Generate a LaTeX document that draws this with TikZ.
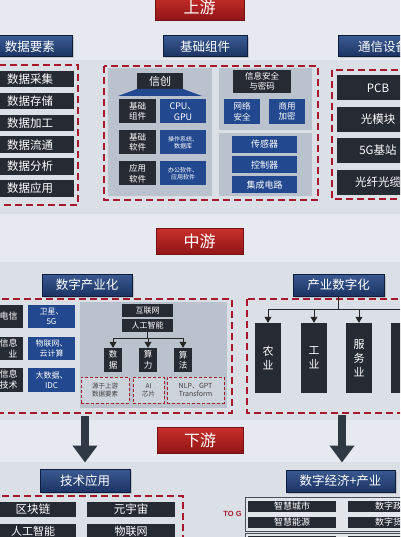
\documentclass[tikz,border=0pt]{standalone}
\usepackage{fontspec}
\setmainfont{Liberation Sans}
\newfontfamily\cjk{Noto Sans CJK SC}
\usetikzlibrary{arrows.meta,shadows}
\definecolor{bgc}{HTML}{E6EAF0}
\definecolor{bandc}{HTML}{DBE0E7}
\definecolor{dkc}{HTML}{262A33}
\definecolor{blc}{HTML}{22498F}
\definecolor{hdtop}{HTML}{3A5A92}
\definecolor{hdbot}{HTML}{1B3363}
\definecolor{hdbd}{HTML}{0E1D3D}
\definecolor{rdtop}{HTML}{C8302B}
\definecolor{rdbot}{HTML}{921517}
\definecolor{rdc}{HTML}{A8182B}
\definecolor{pnc}{HTML}{B9C2CD}
\definecolor{smf}{HTML}{CDD3DB}
\definecolor{arc}{HTML}{2F3944}
\definecolor{frc}{HTML}{4A4F57}
\definecolor{frf}{HTML}{E2E6EB}
\newcommand\myfs[2]{\fontsize{#1}{#2}\selectfont}
\tikzset{
  wh/.style 2 args={minimum width=#1pt, minimum height=#2pt},
  base/.style={inner sep=0pt, align=center, text=white, font=\cjk},
  darkbox/.style={base, fill=dkc},
  bluebox/.style={base, fill=blc},
  headbox/.style={base, top color=hdtop, bottom color=hdbot, draw=hdbd, line width=1pt,
     drop shadow={shadow xshift=1.5pt, shadow yshift=-1.5pt, opacity=.35}, font=\cjk\myfs{12.5}{14}},
  redtitle/.style={base, top color=rdtop, bottom color=rdbot, draw=rdbot!80!black, line width=.8pt, font=\cjk\myfs{16}{18}},
  reddash/.style={draw=rdc, line width=2pt, dash pattern=on 7pt off 4pt},
  smalldash/.style={base, draw=rdc, line width=1pt, dash pattern=on 3pt off 2pt, fill=smf, text=black!75},
  conn/.style={draw=black!85, line width=.8pt},
  tip/.style={-{Triangle[length=6pt,width=7pt]}},
  bigarr/.style={draw=arc, line width=8pt, -{Triangle[length=17pt,width=24pt]}},
  frame/.style={draw=frc, line width=1pt, fill=frf}
}
\begin{document}
\begin{tikzpicture}[x=1pt,y=-1pt]
\useasboundingbox (0,0) rectangle (400,537);
\clip (0,0) rectangle (400,537);
% background bands
\fill[bgc] (0,0) rectangle (400,537);
\fill[bandc] (0,60) rectangle (400,214);
\fill[bandc] (0,262) rectangle (400,420);
\fill[bandc] (0,462) rectangle (400,537);

%================ 上游 =================
\node[redtitle, wh={89}{26}] (tUp) at (199.5,7) {上游};
\node[headbox, wh={84}{21}] (hSJYS) at (30,46.5) {数据要素};
\node[headbox, wh={84}{21}] (hJCZJ) at (205,46.5) {基础组件};
\node[headbox, wh={90}{21}] (hTXSB) at (383,46.5) {通信设备};

% left block
\draw[reddash] (-10,65) rectangle (78,205);
\foreach \t [count=\i from 0] in {数据采集,数据存储,数据加工,数据流通,数据分析,数据应用}{
  \node[darkbox, wh={88}{16.5}, font=\cjk\myfs{11.5}{13}] (sj\i) at (30,79+21.9*\i) {\t};
}

% middle block
\draw[reddash] (104,66) rectangle (318,200);
\fill[pnc] (108,68) rectangle (212,196);
\fill[pnc] (219,68) rectangle (312,130);
\fill[pnc] (219,133) rectangle (312,196);
\node[darkbox, wh={46}{16}, font=\cjk\myfs{11}{13}] (xc) at (160,81) {信创};
\fill[blc] (137,89) -- (183,89) -- (202,96) -- (118,96) -- cycle;
\node[darkbox, wh={37}{24}, font=\cjk\myfs{8.5}{10.5}] (jczj) at (137.5,111.5) {基础\\组件};
\node[bluebox, wh={46}{24}, font=\cjk\myfs{9}{11}] (cpu) at (183,111.5) {CPU、\\GPU};
\node[darkbox, wh={37}{24}, font=\cjk\myfs{8.5}{10.5}] (jcrj) at (137.5,142.5) {基础\\软件};
\node[bluebox, wh={46}{24}, font=\cjk\myfs{6}{7.5}] (czxt) at (183,142.5) {操作系统、\\数据库};
\node[darkbox, wh={37}{24}, font=\cjk\myfs{8.5}{10.5}] (yyrj) at (137.5,173.5) {应用\\软件};
\node[bluebox, wh={46}{24}, font=\cjk\myfs{6}{7.5}] (bgrj) at (183,173.5) {办公软件、\\应用软件};

\node[darkbox, wh={58}{23}, font=\cjk\myfs{8.5}{10}] (xxaq) at (262,81.5) {信息安全\\与密码};
\node[bluebox, wh={36}{25}, font=\cjk\myfs{8.5}{10.5}] (wlaq) at (242,111.5) {网络\\安全};
\node[bluebox, wh={36}{25}, font=\cjk\myfs{8.5}{10.5}] (syjm) at (287,111.5) {商用\\加密};
\node[bluebox, wh={65}{17}, font=\cjk\myfs{9}{11}] (cgq) at (264.5,144.5) {传感器};
\node[bluebox, wh={65}{17}, font=\cjk\myfs{9}{11}] (kzq) at (264.5,165) {控制器};
\node[bluebox, wh={65}{17}, font=\cjk\myfs{9}{11}] (jcdl) at (264.5,185) {集成电路};

% right block
\draw[reddash] (332,70) rectangle (412,199);
\node[darkbox, wh={82}{25}, font=\cjk\myfs{11.5}{13}] (pcb) at (378,88) {PCB};
\node[darkbox, wh={82}{25}, font=\cjk\myfs{11.5}{13}] (gmk) at (378,119.5) {光模块};
\node[darkbox, wh={82}{25}, font=\cjk\myfs{11.5}{13}] (jz) at (378,150.5) {5G基站};
\node[darkbox, wh={82}{25}, font=\cjk\myfs{11.5}{13}] (gx) at (378,182.5) {光纤光缆};

%================ 中游 =================
\node[redtitle, wh={87}{26}] (tMid) at (199.5,241) {中游};
\node[headbox, wh={90}{22}] (hSZCYH) at (87,285) {数字产业化};
\node[headbox, wh={91}{22}] (hCYSZH) at (338.5,285) {产业数字化};

\draw[reddash] (-10,299) rectangle (232,413);
\draw[reddash] (247,299) rectangle (412,413);

\node[darkbox, wh={43}{23.5}, font=\cjk\myfs{9}{11}] (dx) at (1.5,316.5) {\hspace*{14pt}电信};
\node[darkbox, wh={43}{23.5}, font=\cjk\myfs{9}{11}, align=right] (xxy) at (1.5,348.5) {\hspace*{14pt}信息\\业};
\node[darkbox, wh={43}{23.5}, font=\cjk\myfs{9}{11}, align=right] (xxjs) at (1.5,380) {\hspace*{14pt}信息\\技术};
\node[bluebox, wh={47}{23.5}, font=\cjk\myfs{8}{10}] (wx) at (51.5,316.5) {卫星、\\5G};
\node[bluebox, wh={47}{23.5}, font=\cjk\myfs{8}{10}] (wlw) at (51.5,348.5) {物联网、\\云计算};
\node[bluebox, wh={47}{23.5}, font=\cjk\myfs{8}{10}] (dsj) at (51.5,380) {大数据、\\IDC};

\fill[pnc] (80,302) rectangle (227,408);
\node[darkbox, wh={51}{13}, font=\cjk\myfs{8}{10}] (hlw) at (147.5,310.5) {互联网};
\node[darkbox, wh={51}{12.5}, font=\cjk\myfs{8}{10}] (rgzn) at (147.5,325.5) {人工智能};
\node[darkbox, wh={18}{24}, font=\cjk\myfs{8.5}{10.5}] (shj) at (113,360) {数\\据};
\node[darkbox, wh={18}{24}, font=\cjk\myfs{8.5}{10.5}] (sl) at (148,360) {算\\力};
\node[darkbox, wh={18}{24}, font=\cjk\myfs{8.5}{10.5}] (sf) at (183,360) {算\\法};
\coordinate (busL) at (113,338);
\coordinate (busR) at (183,338);
\draw[conn] (rgzn.south) -- (rgzn.south |- busL);
\draw[conn] (busL) -- (busR);
\draw[conn,tip] (busL) -- (shj.north);
\draw[conn,tip] (sl.north |- busL) -- (sl.north);
\draw[conn,tip] (busR) -- (sf.north);
\node[smalldash, wh={48}{26}, font=\cjk\myfs{6.5}{8}] (yy) at (105,390) {源于上游\\数据要素};
\node[smalldash, wh={31}{26}, font=\cjk\myfs{6.5}{8}] (ai) at (148.5,390) {AI\\芯片};
\node[smalldash, wh={57}{26}, font=\cjk\myfs{7}{8.5}] (nlp) at (195.5,390) {NLP、GPT\\Transform};

% right middle
\node[darkbox, wh={26}{70}, font=\cjk\myfs{11}{14}] (ny) at (268,358) {农\\业};
\node[darkbox, wh={26}{70}, font=\cjk\myfs{11}{14}] (gy) at (314,358) {工\\业};
\node[darkbox, wh={26}{70}, font=\cjk\myfs{11}{14}] (fwy) at (359,358) {服\\务\\业};
\node[darkbox, wh={26}{70}] (d4) at (404,358) {};
\coordinate (bus2) at (338.5,309);
\draw[conn] (hCYSZH.south) -- (bus2);
\draw[conn] (ny.north |- bus2) -- (d4.north |- bus2);
\draw[conn,tip] (ny.north |- bus2) -- (ny.north);
\draw[conn,tip] (gy.north |- bus2) -- (gy.north);
\draw[conn,tip] (fwy.north |- bus2) -- (fwy.north);
\draw[conn,tip] (d4.north |- bus2) -- (d4.north);

%================ 下游 =================
\node[redtitle, wh={86}{26}] (tDown) at (200,440) {下游};
\node[headbox, wh={90}{23}] (hJSYY) at (85,480.5) {技术应用};
\node[headbox, wh={109}{22}] (hSZJJ) at (340.5,481) {数字经济+产业};

\coordinate (aL) at (85,416);
\coordinate (aR) at (342,415);
\draw[bigarr, shorten >=6pt] (aL) -- (hJSYY.north);
\draw[bigarr, shorten >=7pt] (aR) -- (aR |- hSZJJ.north);

\draw[reddash] (-10,496) rectangle (183,560);
\node[darkbox, wh={86}{15}, font=\cjk\myfs{11.5}{13}] (qkl) at (33,509.5) {区块链};
\node[darkbox, wh={88}{15}, font=\cjk\myfs{11.5}{13}] (yyz) at (131,509.5) {元宇宙};
\node[darkbox, wh={86}{15}, font=\cjk\myfs{11}{12}] (rgzn2) at (33,531.5) {人工智能};
\node[darkbox, wh={88}{15}, font=\cjk\myfs{11}{12}] (wlw2) at (131,531.5) {物联网};

\draw[frame] (245,497) rectangle (445,531);
\draw[frame] (245,533) rectangle (445,570);
\node[darkbox, wh={88}{11}, font=\cjk\myfs{9}{10}] (zhcs) at (292,506.5) {智慧城市};
\node[darkbox, wh={90}{11}, font=\cjk\myfs{9}{10}] (szzf) at (393,506.5) {数字政府};
\node[darkbox, wh={88}{11}, font=\cjk\myfs{9}{10}] (zhny) at (292,522.5) {智慧能源};
\node[darkbox, wh={90}{11}, font=\cjk\myfs{9}{10}] (szhb) at (393,522.5) {数字货币};
\node[darkbox, wh={88}{11}] (r3a) at (292,541) {};
\node[darkbox, wh={90}{11}] (r3b) at (393,541) {};
\node[inner sep=0pt, text=rdc, font=\bfseries\myfs{7.5}{9}] (tog) at (232.5,514) {TO G};
\end{tikzpicture}
\end{document}
